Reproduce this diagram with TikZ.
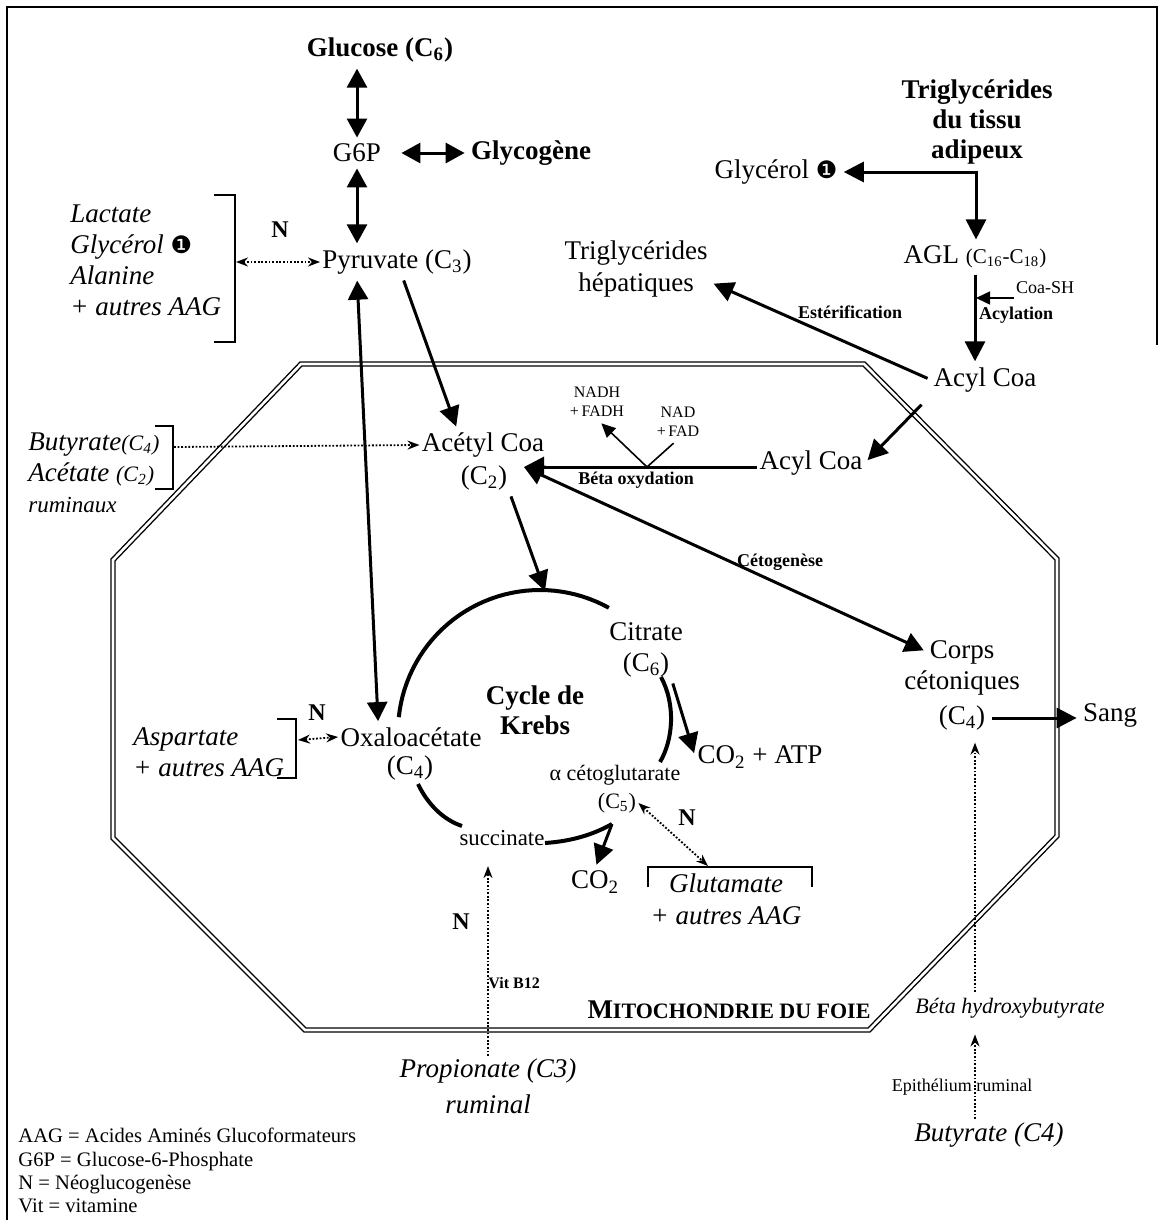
\documentclass[tikz,border=0pt]{standalone}
\usepackage{fontspec}
\setmainfont{Liberation Serif}
\newfontfamily\dejavu{DejaVu Sans}
\usetikzlibrary{arrows.meta}
\newcommand{\taille}[2]{\fontsize{#1}{#2}\selectfont}
\newcommand{\un}{{\dejavu\upshape\taille{12}{12}❶}}
\newcommand{\ind}[1]{\textsubscript{#1}}

\begin{document}
\begin{tikzpicture}[x=0.5pt, y=-0.5pt,
  every node/.style={inner sep=1pt, font=\taille{13.5}{16}},
  gras/.style={font=\taille{13.5}{15}\bfseries},
  ital/.style={font=\taille{13.5}{15.5}\itshape},
  petit/.style={font=\taille{9}{10}\bfseries},
  mini/.style={font=\taille{8}{9.5}},
  lettre/.style={font=\taille{12}{12}\bfseries},
  fl/.style={line width=1.5pt, -{Triangle[length=10pt,width=10pt]}, shorten >=2pt, shorten <=2pt},
  bifl/.style={line width=1.5pt, {Triangle[length=9.5pt,width=10pt]}-{Triangle[length=9.5pt,width=10pt]}, shorten >=2pt, shorten <=2pt},
  flmin/.style={line width=0.8pt, -{Triangle[length=7pt,width=6.5pt]}},
  pointfl/.style={line width=0.9pt, dash pattern=on 0.9pt off 0.9pt, -{Stealth[length=6pt,width=4.5pt]}},
  pointbi/.style={line width=0.9pt, dash pattern=on 0.9pt off 0.9pt, {Stealth[length=6pt,width=4.5pt]}-{Stealth[length=6pt,width=4.5pt]}},
  krebsarc/.style={line width=2pt},
  crochet/.style={line width=0.8pt}]
\useasboundingbox (0,0) rectangle (1160,1220);

% cadre et mitochondrie
\draw[line width=1pt] (7,1220) -- (7,7) -- (1157,7) -- (1157,345);
\draw[double, double distance=1.3pt, line width=0.7pt] (301,364) -- (864,364) -- (1057,559) -- (1057,836) -- (869,1030) -- (305,1030) -- (113,838) -- (113,560) -- cycle;

% glucose, glycogene
\node[gras] (glu) at (380,50) {Glucose (C\ind{6})};
\node (g6p) at (357,153) {G6P};
\node[gras] (glyco) at (531,153) {Glycogène};
\node (pyr) at (397,262) {Pyruvate (C\ind{3})};
\node[ital, align=left, anchor=west] (lac) at (68,260) {Lactate\\Glycérol \un\\Alanine\\+ autres AAG};
\node[lettre] (n1) at (280,230) {N};
\draw[crochet] (214,195) -- (235,195) -- (235,342) -- (214,342);

% tissu adipeux
\node[gras, align=center] (trig) at (977,122) {Triglycérides\\du tissu\\adipeux};
\node (glyc) at (776,172) {Glycérol \un};
\node (agl) at (975,257) {AGL {\taille{10.5}{12}(C\ind{16}-C\ind{18})}};
\node[align=center] (tgh) at (636,269) {Triglycérides\\hépatiques};
\node[font=\taille{9}{10}] (coash) at (1045,288) {Coa-SH};
\node[petit] (acyla) at (1016,315) {Acylation};
\node[petit] (ester) at (850,312) {Estérification};
\node (acyl1) at (985,380) {Acyl Coa};
\node (acyl2) at (811,463) {Acyl Coa};

% acetyl coa
\node (acetyl) at (483,445) {Acétyl Coa};
\node (acetylc) at (484,478) {(C\ind{2})};
\node[mini, align=center] (nadh) at (597,402) {NADH\\+\,FADH};
\node[mini, align=center] (nad) at (678,422) {NAD\\+\,FAD};
\node[petit] (bo) at (636,480) {Béta oxydation};
\node[petit] (ceto) at (780,562) {Cétogenèse};
\node[ital, align=left, anchor=west] (butac) at (26,459) {Butyrate{\taille{11}{11}(C\ind{4})}\\Acétate {\taille{11}{11}(C\ind{2})}};
\node[font=\taille{11.5}{12}\itshape, anchor=west] (rumx) at (26,505) {ruminaux};
\draw[crochet] (155,426) -- (173,426) -- (173,489) -- (155,489);

% cycle de Krebs
\node (oxa) at (411,737) {Oxaloacétate};
\node (oxac) at (410,768) {(C\ind{4})};
\node (cit) at (646,632) {Citrate};
\node (citc) at (646,665) {(C\ind{6})};
\node[font=\taille{11}{12}] (akg) at (615,775) {α cétoglutarate};
\node[font=\taille{11}{12}] (akgc) at (617,803) {(C\ind{5})};
\node[font=\taille{11.4}{12}] (succ) at (502,838) {succinate};
\node (co2a) at (595,882) {CO\ind{2}};
\node (co2b) at (760,757) {CO\ind{2} + ATP};
\node[gras, align=center] (krebs) at (535,710) {Cycle de\\Krebs};
\node[ital, align=left, anchor=west] (asp) at (131,752) {Aspartate\\+ autres AAG};
\node[lettre] (n2) at (317,713) {N};
\draw[crochet] (277,719) -- (296,719) -- (296,778) -- (277,778);
\node[ital, align=center, font=\taille{13.5}{16}\itshape] (glut) at (726,899) {Glutamate\\+ autres AAG};
\node[lettre] (n4) at (687,818) {N};
\draw[crochet] (648,887) -- (648,867) -- (812,867) -- (812,887);

% corps cetoniques
\node (corps) at (962,652) {Corps};
\node (cetoniq) at (962,683) {cétoniques};
\node (corpsc) at (962,718) {(C\ind{4})};
\node (sang) at (1110,715) {Sang};

% bas
\node[font=\taille{13.5}{18}\itshape, align=center] (prop) at (488,1086) {Propionate (C3)\\ruminal};
\node[lettre] (n3) at (461,922) {N};
\node[font=\taille{8}{9}\bfseries, anchor=west] (vit) at (486,983) {Vit B12};
\node[font=\taille{11}{12}\itshape] (bhb) at (1010,1008) {Béta hydroxybutyrate};
\node[font=\taille{9}{10}] (epit) at (962,1087) {Epithélium ruminal};
\node[ital] (but) at (989,1135) {Butyrate (C4)};
\node (mito) at (729,1010) {\bfseries M{\taille{11}{11}ITOCHONDRIE DU FOIE}};
\node[font=\taille{10.3}{11.6}, align=left, anchor=north west] (leg) at (16,1126) {AAG = Acides Aminés Glucoformateurs\\G6P = Glucose-6-Phosphate\\N = Néoglucogenèse\\Vit = vitamine};

% fleches
\draw[bifl] (g6p.north |- glu.south) -- (g6p.north);
\draw[bifl] (g6p.south) -- (g6p.south |- pyr.north);
\draw[bifl, shorten <=9pt] (g6p.east) -- (glyco.west);
\coordinate (crochetlac) at (236,262);
\draw[pointbi] (crochetlac) -- (pyr.west);
\coordinate (coin) at (976,172);
\draw[fl, shorten <=0pt] (coin) -- (glyc.east);
\draw[fl, shorten <=-0.75pt] (coin) -- (coin |- agl.north);
\draw[fl] (agl.south) -- (agl.south |- acyl1.north);
\coordinate (acyl) at (976,298);
\draw[flmin] (acyl -| coash.west) -- (acyl);
\draw[fl] (acyl1.west) -- (tgh.-10);
\draw[fl, shorten <=7pt] (acyl1.south west) -- (acyl2.east);
\coordinate (acetylE) at (524,467);
\draw[fl, shorten <=0pt, shorten >=0pt] (acyl2.west |- acetylE) -- (acetylE);
\coordinate (bopt) at (647,467);
\draw[flmin, shorten >=3pt] (bopt) -- (nadh.south);
\draw[line width=0.8pt, shorten >=3pt] (bopt) -- (nad.south);
\coordinate (crochetbut) at (174,447);
\draw[pointfl] (crochetbut) -- (acetyl.west);
\draw[fl] (pyr.290) -- (acetyl.150);
\draw[bifl] (g6p |- pyr.south) -- (oxa.160);
\coordinate (ktop) at (545,591);
\draw[fl, shorten >=0pt] (acetylc.south east) -- (ktop);
\draw[bifl, shorten <=0pt] (acetylE) -- (corps.west);

% arcs du cycle
\coordinate (ksucc) at (612,824);
\draw[krebsarc] plot[domain=186:299, samples=40] ({540+142*cos(\x)},{732+142*sin(\x)});
\draw[krebsarc] (661,677) .. controls (676,705) and (673,740) .. (660,762);
\draw[krebsarc] (418,784) .. controls (428,805) and (444,820) .. (462,826);
\draw[krebsarc] (545,843) .. controls (575,841) and (596,833) .. (ksucc);
\draw[fl] (citc.south east) -- (co2b.west);
\draw[fl, shorten <=0pt] (ksucc) -- (co2a.north);
\coordinate (crochetasp) at (298,740);
\draw[pointbi] (crochetasp) -- (oxa.west);
\coordinate (crochetglu) at (708,866);
\draw[pointbi] (akgc.east) -- (crochetglu);
\draw[pointfl, shorten >=9pt] (prop.north) -- (prop.north |- succ.south);
\coordinate (bhbN) at (975,992);
\draw[pointfl, shorten >=5pt] (bhbN) -- (bhbN |- corpsc.south);
\coordinate (butN) at (975,1119);
\draw[pointfl, shorten >=7pt] (butN) -- (butN |- bhb.south);
\draw[fl] (corpsc.east) -- (corpsc.east -| sang.west);
\end{tikzpicture}
\end{document}
